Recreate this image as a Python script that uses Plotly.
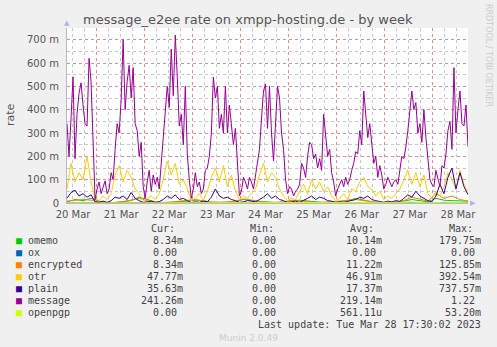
import pandas as pd
import plotly.graph_objects as go

# ---------------- data (values in milli-units, "m") ----------------
start = pd.Timestamp("2023-03-20 09:30")
end = pd.Timestamp("2023-03-28 17:30")

series_names = ["omemo", "ox", "encrypted", "otr", "plain", "message", "openpgp"]
series_colors = ["#00CC00", "#0066B3", "#FF8000", "#FFCC00", "#330099", "#990099", "#CCFF00"]

# hourly samples
message = [
    340, 200, 360, 540, 190, 380, 470, 515, 420, 340, 330, 620, 520, 300, 15, 60, 90, 40, 70, 95,
    40, 60, 130, 100, 230, 340, 300, 440, 700, 400, 520, 590, 450, 580, 340, 310, 200, 260, 70, 20,
    90, 140, 50, 120, 80, 110, 60, 170, 240, 360, 500, 410, 660, 460, 720, 540, 330, 380, 250, 500,
    210, 100, 20, 60, 130, 70, 90, 40, 60, 140, 150, 200, 300, 540, 450, 500, 320, 380, 300, 500,
    300, 420, 330, 250, 320, 160, 30, 50, 110, 90, 60, 110, 90, 60, 120, 160, 230, 360, 480, 510,
    320, 500, 300, 180, 360, 500, 450, 300, 230, 100, 40, 70, 60, 30, 50, 60, 80, 170, 150, 110,
    200, 260, 250, 190, 210, 150, 190, 140, 380, 300, 200, 230, 130, 90, 30, 60, 80, 100, 70, 110,
    80, 100, 140, 170, 220, 210, 310, 250, 480, 380, 280, 340, 260, 170, 200, 110, 160, 120, 60, 80,
    110, 90, 70, 90, 100, 80, 140, 200, 190, 240, 310, 390, 480, 400, 430, 300, 340, 260, 400, 280,
    180, 100, 80, 70, 140, 100, 70, 160, 150, 210, 310, 350, 230, 580, 300, 400, 480, 340, 330, 420,
    241,
]

# 2-hourly samples
otr = [
    60, 170, 90, 130, 100, 200, 90, 20, 10, 30, 15, 40, 120, 160, 90, 140, 110, 60, 40, 10,
    20, 30, 15, 40, 100, 180, 120, 170, 80, 100, 60, 10, 20, 40, 10, 50, 110, 150, 90, 160,
    70, 120, 50, 15, 30, 20, 40, 60, 120, 170, 90, 130, 110, 60, 30, 10, 20, 15, 50, 80,
    40, 100, 60, 90, 50, 70, 30, 10, 20, 40, 15, 60, 50, 90, 110, 70, 60, 30, 50, 15,
    30, 20, 40, 60, 100, 140, 80, 130, 70, 120, 40, 20, 50, 30, 70, 130, 100, 60, 140, 80,
    48,
]
plain = [
    20, 45, 55, 30, 40, 25, 35, 5, 3, 8, 2, 10, 25, 20, 30, 15, 45, 20, 10, 3,
    5, 8, 2, 6, 15, 30, 20, 35, 15, 20, 10, 2, 5, 3, 8, 5, 25, 60, 30, 20,
    25, 15, 10, 3, 5, 10, 8, 5, 15, 25, 40, 20, 30, 15, 10, 2, 5, 8, 3, 10,
    20, 30, 15, 25, 20, 10, 8, 2, 5, 3, 6, 10, 15, 25, 20, 30, 15, 10, 5, 3,
    8, 5, 10, 6, 20, 35, 25, 50, 30, 20, 10, 5, 30, 80, 40, 110, 150, 60, 130, 70,
    36,
]

# 4-hourly samples
omemo = [
    5, 15, 10, 20, 8, 3, 2, 5, 10, 25, 15, 5, 2, 3, 5, 8, 12, 10, 4, 2,
    3, 6, 15, 10, 8, 3, 2, 4, 10, 12, 8, 3, 2, 3, 6, 10, 20, 12, 5, 2,
    3, 5, 8, 15, 10, 5, 20, 12, 10, 8, 8,
]
ox = [
    0, 0, 0, 0, 0, 0, 0, 0, 0, 0, 0, 0, 0, 0, 0, 0, 0, 0, 0, 0,
    0, 0, 0, 0, 0, 0, 0, 0, 0, 0, 0, 0, 0, 0, 0, 0, 0, 0, 0, 0,
    0, 0, 0, 0, 0, 0, 0, 0, 0, 0, 0,
]
encrypted = [
    8, 10, 15, 12, 5, 3, 2, 6, 12, 20, 10, 4, 2, 3, 8, 12, 15, 8, 3, 2,
    4, 8, 18, 12, 6, 2, 3, 5, 12, 10, 6, 2, 3, 4, 8, 12, 15, 10, 5, 2,
    4, 6, 10, 25, 15, 8, 40, 20, 30, 15, 8,
]
openpgp = [
    0, 0, 0, 0, 0, 0, 0, 0, 0, 0, 0, 0, 0, 0, 0, 0, 0, 0, 0, 0,
    0, 0, 0, 0, 0, 0, 0, 0, 0, 0, 0, 0, 0, 0, 0, 0, 0, 0, 0, 0,
    0, 2, 3, 5, 2, 0, 3, 0, 2, 0, 0,
]

series_values = [omemo, ox, encrypted, otr, plain, message, openpgp]
series_steps = ["4h", "4h", "4h", "2h", "2h", "1h", "4h"]

# legend statistics (as printed)
stat_cur = ["8.34m", "0.00", "8.34m", "47.77m", "35.63m", "241.26m", "0.00"]
stat_min = ["0.00", "0.00", "0.00", "0.00", "0.00", "0.00", "0.00"]
stat_avg = ["10.14m", "0.00", "11.22m", "46.91m", "17.37m", "219.14m", "561.11u"]
stat_max = ["179.75m", "0.00", "125.85m", "392.54m", "737.57m", "1.22", "53.20m"]

y_tickvals = [0, 100, 200, 300, 400, 500, 600, 700]
y_ticktext = ["0", "100 m", "200 m", "300 m", "400 m", "500 m", "600 m", "700 m"]
day_labels = ["20 Mar", "21 Mar", "22 Mar", "23 Mar", "24 Mar", "25 Mar", "26 Mar", "27 Mar", "28 Mar"]

title_text = "message_e2ee rate on xmpp-hosting.de - by week"
last_update = "Last update: Tue Mar 28 17:30:02 2023"

# ---------------- layout geometry ----------------
W, H = 497, 347
PL, PR, PT, PB = 67, 468, 28, 203  # plot area in pixels
PW, PH = PR - PL, PB - PT

def px(x):
    return (x - PL) / PW

def py(y):
    return (PB - y) / PH

MONO = "DejaVu Sans Mono"
SANS = "DejaVu Sans"

fig = go.Figure()

for name, color, vals, step in zip(series_names, series_colors, series_values, series_steps):
    xs = pd.date_range(start, periods=len(vals), freq=step)
    fig.add_trace(go.Scatter(x=xs, y=vals, mode="lines", name=name,
                             line=dict(color=color, width=1), showlegend=False,
                             hoverinfo="skip"))

# invisible trace to carry the label axis
fig.add_trace(go.Scatter(x=[start, end], y=[0, 0], xaxis="x2", mode="lines",
                         line=dict(width=0), showlegend=False, hoverinfo="skip"))

midnights = pd.date_range("2023-03-21", "2023-03-28", freq="1D")
noons = pd.date_range("2023-03-20 12:30", periods=len(day_labels), freq="1D")

fig.update_layout(
    width=W, height=H,
    margin=dict(l=PL, r=W - PR, t=PT, b=H - PB, pad=0),
    paper_bgcolor="#F0F0F0",
    plot_bgcolor="#FFFFFF",
    font=dict(family=SANS, size=10, color="#555555"),
    xaxis=dict(
        type="date", range=[start, end],
        tickmode="array", tickvals=list(midnights),
        showticklabels=False, ticks="",
        showgrid=True, gridcolor="rgba(240,130,130,0.9)", griddash="dot", gridwidth=1,
        minor=dict(tick0="2023-03-20 00:00", dtick=6 * 3600 * 1000, showgrid=True,
                   gridcolor="#C8C8C8", griddash="dot", gridwidth=1),
        showline=True, linecolor="#B8B8C8", linewidth=1,
        zeroline=False, fixedrange=True,
    ),
    xaxis2=dict(
        type="date", range=[start, end], overlaying="x", side="bottom", anchor="y",
        tickmode="array", tickvals=list(noons), ticktext=day_labels,
        showgrid=False, ticks="", showline=False, zeroline=False,
        ticklabelstandoff=4,
        tickfont=dict(family=SANS, size=10, color="#555555"),
    ),
    yaxis=dict(
        range=[0, 750],
        tickmode="array", tickvals=y_tickvals, ticktext=y_ticktext,
        showgrid=True, gridcolor="rgba(240,130,130,0.9)", griddash="dot", gridwidth=1,
        minor=dict(tickmode="linear", tick0=0, dtick=50, showgrid=True,
                   gridcolor="#C8C8C8", griddash="dot", gridwidth=1),
        showline=True, linecolor="#B8B8C8", linewidth=1,
        zeroline=False, ticks="", fixedrange=True,
        ticklabelstandoff=5,
        tickfont=dict(family=SANS, size=10, color="#555555"),
    ),
)

ann = []

def text(x, y, t, size=10, color="#444444", family=MONO, xanchor="left", **kw):
    ann.append(dict(xref="paper", yref="paper", x=px(x), y=py(y), text=t,
                    showarrow=False, xanchor=xanchor, yanchor="middle",
                    font=dict(family=family, size=size, color=color), **kw))

# title
text(248, 19, title_text, size=13, color="#555555", family=SANS, xanchor="center")
# y-axis title
text(10, 115, "rate", size=11, color="#555555", family=SANS, xanchor="center", textangle=-90)
# right vertical watermark
text(488, 55, "RRDTOOL / TOBI OETIKER", size=8, color="#CCCCCC", family=SANS,
     xanchor="center", textangle=90)
# axis arrows
text(67, 23, "▲", size=7, color="#AAB4E8", family=SANS, xanchor="center")
text(473, 203, "▶", size=7, color="#AAB4E8", family=SANS, xanchor="center")

# legend header
for hx, h in zip([149, 248, 348, 447], ["Cur:", "Min:", "Avg:", "Max:"]):
    text(hx, 228, h)

NB = "\u00a0"
def fmt(v):
    return v if v[-1].isalpha() else v + NB

row_y0, row_dy = 240, 12
for i, name in enumerate(series_names):
    yy = row_y0 + i * row_dy
    text(14, yy, "■", size=10, color=series_colors[i], family=MONO)
    text(26, yy, name)
    text(185, yy, fmt(stat_cur[i]), xanchor="right")
    text(284, yy, fmt(stat_min[i]), xanchor="right")
    text(384, yy, fmt(stat_avg[i]), xanchor="right")
    text(483, yy, fmt(stat_max[i]), xanchor="right")

text(483, 324, last_update, xanchor="right")
text(248, 338, "Munin 2.0.49", size=9, color="#CCCCCC", family=SANS, xanchor="center")

fig.update_layout(annotations=ann)

fig.write_html("out.html")
